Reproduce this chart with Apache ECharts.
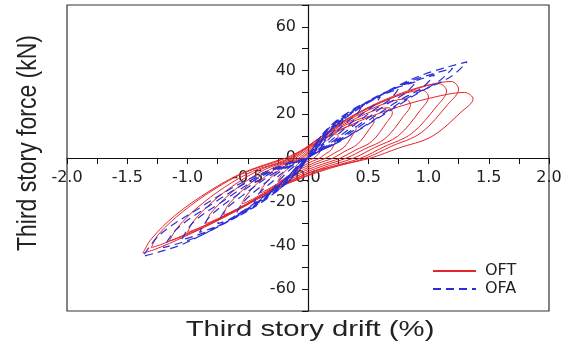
<!DOCTYPE html>
<html>
<head>
<meta charset="utf-8">
<script src="https://cdn.jsdelivr.net/npm/echarts@6/dist/echarts.min.js"></script>
<style>
  html, body { margin: 0; padding: 0; background: #fff; }
  #chart { width: 572px; height: 345px; }
</style>
</head>
<body>
<div id="chart"></div>
<script>
// tick labels shown on the crossing axes
const driftTicks = [-2.0, -1.5, -1.0, -0.5, 0, 0.5, 1.0, 1.5, 2.0];
const forceTicks = [-60, -40, -20, 0, 20, 40, 60];

// OFT hysteresis cycles, [drift %, force kN]
const oftCycles = [
  [[0,0],[0.01,1.8],[0.04,3.3],[0.07,4.7],[0.10,5.7],[0.11,6],[0.12,5.4],[0.11,4.2],[0.09,2],[0.07,0.9],[0.05,0],[0.02,-0.8],[0,-1.4],
   [-0.03,-2.3],[-0.06,-3.7],[-0.09,-5],[-0.11,-5.8],[-0.12,-6],[-0.11,-5.1],[-0.10,-3.6],[-0.07,-2.1],[-0.05,-1],[-0.02,-0.1]],
  [[0.03,3.3],[0.08,6.1],[0.14,8.6],[0.2,10.5],[0.24,11],[0.25,9.9],[0.23,7.7],[0.19,3.6],[0.14,1.7],[0.1,0],[0.04,-1.4],[0,-2.5],
   [-0.06,-4.2],[-0.13,-6.8],[-0.19,-9.1],[-0.23,-10.6],[-0.25,-11],[-0.24,-9.4],[-0.2,-6.6],[-0.15,-3.9],[-0.1,-1.8],[-0.04,-0.1]],
  [[0.04,4.5],[0.12,8.3],[0.22,11.7],[0.32,14.3],[0.38,15],[0.4,13.5],[0.37,10.5],[0.3,5],[0.22,2.3],[0.15,0],[0.06,-2],[0,-3.5],
   [-0.1,-6.1],[-0.2,-9.9],[-0.3,-13.3],[-0.37,-15.4],[-0.4,-16],[-0.38,-13.6],[-0.32,-9.6],[-0.24,-5.6],[-0.16,-2.6],[-0.06,-0.2]],
  [[0.06,5.7],[0.17,10.5],[0.3,14.8],[0.44,18.1],[0.52,19],[0.55,17.1],[0.51,13.3],[0.41,6.3],[0.3,2.9],[0.21,0],[0.08,-2.5],[0,-4.4],
   [-0.14,-8],[-0.28,-13],[-0.41,-17.4],[-0.51,-20.2],[-0.55,-21],[-0.52,-17.9],[-0.44,-12.6],[-0.33,-7.4],[-0.22,-3.4],[-0.08,-0.2]],
  [[0.07,6.9],[0.21,12.7],[0.39,17.9],[0.56,21.9],[0.67,23],[0.7,20.7],[0.65,16.1],[0.53,7.6],[0.39,3.5],[0.27,0],[0.11,-3],[0,-5.3],
   [-0.18,-9.9],[-0.35,-16.1],[-0.53,-21.6],[-0.65,-25],[-0.7,-26],[-0.67,-22.1],[-0.56,-15.6],[-0.42,-9.1],[-0.28,-4.2],[-0.11,-0.3]],
  [[0.09,8.1],[0.26,14.9],[0.47,21.1],[0.68,25.7],[0.81,27],[0.85,24.3],[0.79,18.9],[0.64,8.9],[0.47,4.1],[0.32,0],[0.13,-3.5],[0,-6.2],
   [-0.21,-11.4],[-0.43,-18.6],[-0.64,-24.9],[-0.79,-28.8],[-0.85,-30],[-0.81,-25.5],[-0.68,-18],[-0.51,-10.5],[-0.34,-4.8],[-0.13,-0.3]],
  [[0.1,9.3],[0.3,17.1],[0.55,24.2],[0.8,29.5],[0.95,31],[1.0,27.9],[0.93,21.7],[0.75,10.2],[0.55,4.7],[0.38,0],[0.15,-4],[0,-7.1],
   [-0.25,-12.9],[-0.5,-21.1],[-0.75,-28.2],[-0.93,-32.6],[-1.0,-34],[-0.95,-28.9],[-0.8,-20.4],[-0.6,-11.9],[-0.4,-5.4],[-0.15,-0.3]],
  [[0.12,10.2],[0.35,18.7],[0.63,26.5],[0.92,32.3],[1.09,34],[1.15,30.6],[1.07,23.8],[0.86,11.2],[0.63,5.1],[0.44,0],[0.17,-4.4],[0,-7.8],
   [-0.29,-14.4],[-0.58,-23.6],[-0.86,-31.5],[-1.07,-36.5],[-1.15,-38],[-1.09,-32.3],[-0.92,-22.8],[-0.69,-13.3],[-0.46,-6.1],[-0.17,-0.4]],
  [[0.13,10.5],[0.38,19.3],[0.69,27.3],[1.0,33.3],[1.19,35],[1.25,31.5],[1.16,24.5],[0.94,11.6],[0.69,5.3],[0.48,0],[0.19,-4.6],[0,-8.1],
   [-0.33,-15.6],[-0.65,-25.4],[-0.98,-34],[-1.21,-39.4],[-1.3,-41],[-1.24,-34.9],[-1.04,-24.6],[-0.78,-14.4],[-0.52,-6.6],[-0.2,-0.4]],
  [[0.14,9],[0.41,16.5],[0.75,23.4],[1.1,28.5],[1.3,30],[1.37,27],[1.27,21],[1.03,9.9],[0.75,4.5],[0.52,0],[0.21,-3.9],[0,-6.9],
   [-0.34,-16.5],[-0.69,-27],[-1.03,-36.1],[-1.27,-41.8],[-1.37,-43.5],[-1.3,-37],[-1.1,-26.1],[-0.82,-15.2],[-0.55,-7],[-0.21,-0.4]]
];

// OFA hysteresis cycles, [drift %, force kN]
const ofaCycles = [
  [[0,0],[0.02,3],[0.06,6],[0.11,8.5],[0.15,10],[0.14,8.5],[0.11,6.8],[0.07,4.2],[0.03,1.7],[0,0],
   [-0.03,-2.7],[-0.07,-5.4],[-0.11,-7.8],[-0.15,-9],[-0.14,-7],[-0.1,-4.5],[-0.06,-2.3],[-0.02,-0.6],[0,0]],
  [[0.05,5.4],[0.12,10.8],[0.21,15.3],[0.3,18],[0.27,15.3],[0.21,12.2],[0.14,7.6],[0.06,3.1],[0,0],
   [-0.06,-4.8],[-0.14,-9.6],[-0.23,-13.9],[-0.3,-16],[-0.27,-12.5],[-0.2,-8],[-0.12,-4],[-0.05,-1.1],[0,0]],
  [[0.07,7.2],[0.18,14.4],[0.32,20.4],[0.45,24],[0.41,20.4],[0.32,16.3],[0.2,10.1],[0.09,4.1],[0,0],
   [-0.09,-6.3],[-0.2,-12.6],[-0.34,-18.3],[-0.45,-21],[-0.41,-16.4],[-0.29,-10.5],[-0.18,-5.3],[-0.07,-1.5],[0,0]],
  [[0.09,8.4],[0.24,16.8],[0.42,23.8],[0.6,28],[0.54,23.8],[0.42,19],[0.27,11.8],[0.12,4.8],[0,0],
   [-0.12,-7.8],[-0.27,-15.6],[-0.45,-22.6],[-0.6,-26],[-0.54,-20.3],[-0.39,-13],[-0.24,-6.5],[-0.09,-1.8],[0,0]],
  [[0.11,9.5],[0.3,18.9],[0.53,26.8],[0.75,31.5],[0.68,26.8],[0.53,21.4],[0.34,13.2],[0.15,5.4],[0,0],
   [-0.15,-9],[-0.34,-18],[-0.56,-26.1],[-0.75,-30],[-0.68,-23.4],[-0.49,-15],[-0.3,-7.5],[-0.11,-2.1],[0,0]],
  [[0.14,10.5],[0.36,21],[0.63,29.8],[0.9,35],[0.81,29.8],[0.63,23.8],[0.41,14.7],[0.18,6],[0,0],
   [-0.18,-10.2],[-0.41,-20.4],[-0.68,-29.6],[-0.9,-34],[-0.81,-26.5],[-0.59,-17],[-0.36,-8.5],[-0.14,-2.4],[0,0]],
  [[0.16,11.4],[0.42,22.8],[0.74,32.3],[1.05,38],[0.95,32.3],[0.74,25.8],[0.47,16],[0.21,6.5],[0,0],
   [-0.21,-11.3],[-0.47,-22.5],[-0.79,-32.6],[-1.05,-37.5],[-0.95,-29.3],[-0.68,-18.8],[-0.42,-9.4],[-0.16,-2.6],[0,0]],
  [[0.18,12.3],[0.48,24.6],[0.84,34.9],[1.2,41],[1.08,34.9],[0.84,27.9],[0.54,17.2],[0.24,7],[0,0],
   [-0.24,-12.3],[-0.54,-24.6],[-0.9,-35.7],[-1.2,-41],[-1.08,-32],[-0.78,-20.5],[-0.48,-10.3],[-0.18,-2.9],[0,0]],
  [[0.2,13.2],[0.53,26.4],[0.92,37.4],[1.32,44],[1.19,37.4],[0.92,29.9],[0.59,18.5],[0.26,7.5],[0,0],
   [-0.27,-13.5],[-0.62,-27],[-1.03,-39.2],[-1.37,-45],[-1.23,-35.1],[-0.89,-22.5],[-0.55,-11.3],[-0.21,-3.2],[0,0]]
];

const labelFont = 'DejaVu Sans, sans-serif';
const titleFont = 'Liberation Sans, Arial, sans-serif';
const chart = echarts.init(document.getElementById('chart'));

const flat = (cycles) => cycles.reduce((acc, c) => acc.concat(c), []);
const hit = (ticks, v) => ticks.some(t => Math.abs(t - v) < 1e-6);

const option = {
  animation: false,
  backgroundColor: '#fff',
  grid: {
    left: 67, right: 23, top: 5, bottom: 34,
    show: true, borderColor: '#333', borderWidth: 1.2
  },
  legend: {
    orient: 'vertical',
    left: 432, top: 263, padding: 0,
    itemWidth: 43, itemHeight: 14, itemGap: 2,
    itemStyle: { opacity: 0 },
    textStyle: { fontFamily: labelFont, fontSize: 16, color: '#222', padding: [0, 0, 0, 4] },
    data: ['OFT', 'OFA']
  },
  // axes sit in the middle of the box, moved there with offset
  xAxis: {
    type: 'value', min: -2, max: 2, interval: 0.25,
    position: 'bottom', offset: -153,
    axisLine: { onZero: false, lineStyle: { color: '#111', width: 1.2 } },
    axisTick: { length: 6, lineStyle: { color: '#111' } },
    splitLine: { show: false },
    axisLabel: {
      fontFamily: labelFont, fontSize: 16, color: '#222', margin: 12,
      formatter: v => hit(driftTicks, v) ? v.toFixed(1) : ''
    }
  },
  yAxis: {
    type: 'value', min: -70, max: 70, interval: 10,
    position: 'left', offset: -241,
    axisLine: { onZero: false, lineStyle: { color: '#111', width: 1.2 } },
    axisTick: { length: 6, lineStyle: { color: '#111' } },
    splitLine: { show: false },
    axisLabel: {
      fontFamily: labelFont, fontSize: 16, color: '#222', margin: 12,
      formatter: v => hit(forceTicks, v) ? String(v) : ''
    }
  },
  graphic: [
    {
      type: 'text', x: 310, y: 330, scaleX: 1.33,
      style: {
        text: 'Third story drift (%)', font: '22px ' + titleFont, fill: '#222',
        align: 'center', verticalAlign: 'middle'
      }
    },
    {
      type: 'text', x: 28, y: 143, rotation: Math.PI / 2, scaleY: 1.2,
      style: {
        text: 'Third story force (kN)', font: '23px ' + titleFont, fill: '#222',
        align: 'center', verticalAlign: 'middle'
      }
    }
  ],
  series: [
    {
      name: 'OFT', type: 'line', symbol: 'none', smooth: 0.35,
      lineStyle: { color: '#e3262b', width: 1 },
      itemStyle: { color: '#e3262b' },
      data: flat(oftCycles)
    },
    {
      name: 'OFA', type: 'line', symbol: 'none', smooth: 0.35,
      lineStyle: { color: '#2a2fd6', width: 1.2, type: [8, 5] },
      itemStyle: { color: '#2a2fd6' },
      data: flat(ofaCycles)
    }
  ]
};
chart.setOption(option);
</script>
</body>
</html>
